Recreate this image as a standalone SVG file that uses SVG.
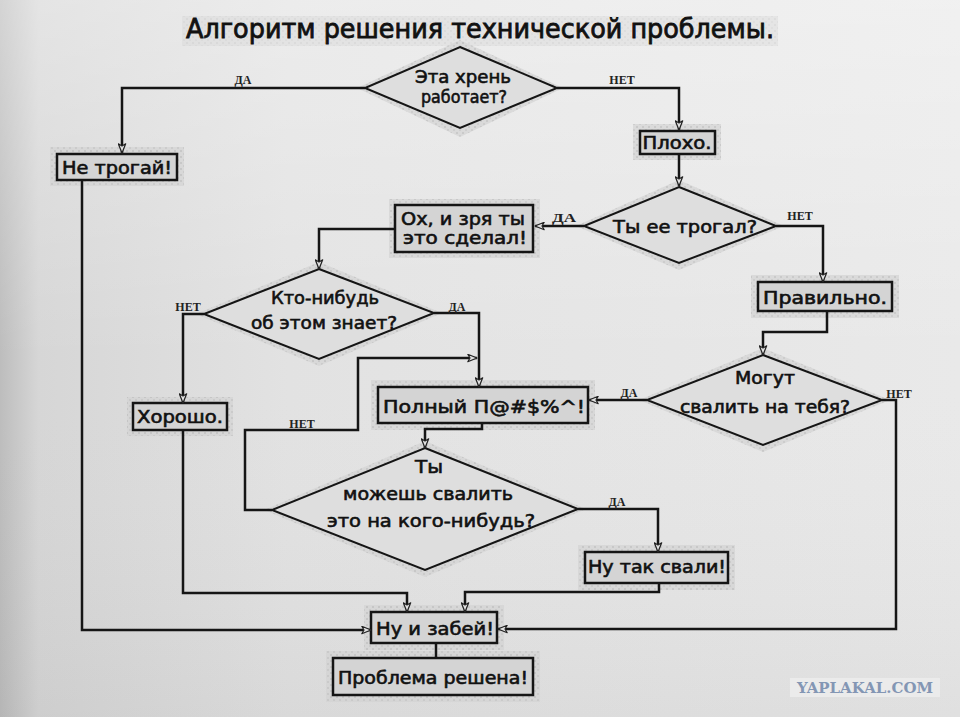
<svg xmlns="http://www.w3.org/2000/svg" width="960" height="717" viewBox="0 0 960 717">
<defs>
<linearGradient id="bg" x1="0" y1="0" x2="1" y2="0">
<stop offset="0" stop-color="#bdbdbd"/>
<stop offset="0.04" stop-color="#d6d6d6"/>
<stop offset="0.3" stop-color="#e2e2e2"/>
<stop offset="1" stop-color="#e9e9e9"/>
</linearGradient>
<linearGradient id="bgv" x1="0" y1="0" x2="0" y2="1">
<stop offset="0" stop-color="#ffffff" stop-opacity="0.35"/>
<stop offset="0.5" stop-color="#ffffff" stop-opacity="0"/>
<stop offset="1" stop-color="#000000" stop-opacity="0.04"/>
</linearGradient>
<pattern id="dither" width="6" height="6" patternUnits="userSpaceOnUse">
<rect width="6" height="6" fill="#d3d3d3"/>
<rect x="0" y="0" width="2" height="2" fill="#bcbcbc"/>
<rect x="3" y="3" width="2" height="2" fill="#c2c2c2"/>
</pattern>
<marker id="ah" markerWidth="11" markerHeight="9" refX="10" refY="4.5" orient="auto" markerUnits="userSpaceOnUse">
<path d="M0.8,0.8 L10,4.5 L0.8,8.2 L3,4.5 Z" fill="#e0e0e0" stroke="#222" stroke-width="1.2" stroke-linejoin="round"/>
</marker>
<style>
.box{fill:#d4d4d4;stroke:#151515;stroke-width:2.5}
.dia{fill:#dedede;stroke:#151515;stroke-width:2}
.halo{fill:url(#dither);opacity:0.7}
.t{font-family:"DejaVu Sans","Noto Sans",sans-serif;font-size:17px;fill:#111;stroke:#111;stroke-width:0.6;text-anchor:middle}
.lbl{font-family:"Liberation Serif","DejaVu Serif",serif;font-size:12px;font-weight:bold;fill:#222;text-anchor:middle}
.con{fill:none;stroke:#151515;stroke-width:2.5;stroke-linejoin:miter}
.arr{marker-end:url(#ah)}
.title{font-family:"DejaVu Sans","Noto Sans",sans-serif;font-size:26px;fill:#111;stroke:#111;stroke-width:0.8;text-anchor:middle}
</style>
</defs>
<rect width="960" height="717" fill="url(#bg)"/>
<rect width="960" height="717" fill="url(#bgv)"/>

<g id="title">
<rect x="182" y="16" width="596" height="30" class="halo" style="opacity:0.35"/>
<text class="title" x="480" y="38" textLength="588" lengthAdjust="spacingAndGlyphs">Алгоритм решения технической проблемы.</text>
</g>

<g id="works">
<polygon class="halo" points="460,40 563,88 460,137 357,88"/>
<polygon class="dia" points="460,47 557,88 460,128 365,88"/>
<text class="t" x="463" y="83" textLength="96" lengthAdjust="spacingAndGlyphs">Эта хрень</text>
<text class="t" x="464" y="103" textLength="86" lengthAdjust="spacingAndGlyphs">работает?</text>
</g>

<g id="dont-touch">
<rect class="halo" x="50" y="147" width="134" height="39"/>
<rect class="box" x="57" y="154" width="120" height="26"/>
<text class="t" x="117" y="174" textLength="110" lengthAdjust="spacingAndGlyphs">Не трогай!</text>
</g>

<g id="bad">
<rect class="halo" x="633" y="124" width="88" height="36"/>
<rect class="box" x="640" y="131" width="75" height="23"/>
<text class="t" x="677" y="149" textLength="69" lengthAdjust="spacingAndGlyphs">Плохо.</text>
</g>

<g id="touched">
<polygon class="halo" points="679,180 784,226 679,270 576,226"/>
<polygon class="dia" points="679,187 776,226 679,263 584,226"/>
<text class="t" x="685" y="233" font-size="19" textLength="144" lengthAdjust="spacingAndGlyphs">Ты ее трогал?</text>
</g>

<g id="oh">
<rect class="halo" x="389" y="199" width="151" height="59"/>
<rect class="box" x="395" y="205" width="138" height="47"/>
<text class="t" x="463" y="225" font-size="15" textLength="124" lengthAdjust="spacingAndGlyphs">Ох, и зря ты</text>
<text class="t" x="465" y="244" font-size="15" textLength="124" lengthAdjust="spacingAndGlyphs">это сделал!</text>
</g>

<g id="right">
<rect class="halo" x="751" y="275" width="148" height="43"/>
<rect class="box" x="758" y="282" width="134" height="29"/>
<text class="t" x="825" y="304" font-size="19" textLength="124" lengthAdjust="spacingAndGlyphs">Правильно.</text>
</g>

<g id="blame-you">
<polygon class="halo" points="763,348 890,400 763,452 639,400"/>
<polygon class="dia" points="763,355 882,400 763,445 647,400"/>
<text class="t" x="765" y="384" font-size="19" textLength="60" lengthAdjust="spacingAndGlyphs">Могут</text>
<text class="t" x="765" y="413" font-size="19" textLength="170" lengthAdjust="spacingAndGlyphs">свалить на тебя?</text>
</g>

<g id="knows">
<polygon class="halo" points="319,262 442,313 319,366 196,314"/>
<polygon class="dia" points="319,269 434,313 319,359 204,314"/>
<text class="t" x="325" y="304" textLength="108" lengthAdjust="spacingAndGlyphs">Кто-нибудь</text>
<text class="t" x="324" y="329" textLength="146" lengthAdjust="spacingAndGlyphs">об этом знает?</text>
</g>

<g id="good">
<rect class="halo" x="127" y="397" width="106" height="39"/>
<rect class="box" x="133" y="403" width="94" height="27"/>
<text class="t" x="180" y="423" font-size="18" textLength="86" lengthAdjust="spacingAndGlyphs">Хорошо.</text>
</g>

<g id="full">
<rect class="halo" x="371" y="380" width="224" height="50"/>
<rect class="box" x="378" y="387" width="210" height="36"/>
<text class="t" x="484" y="413" font-size="19" textLength="202" lengthAdjust="spacingAndGlyphs">Полный П@#$%^!</text>
</g>

<g id="blame-other">
<polygon class="halo" points="425,441 586,509 425,577 264,510"/>
<polygon class="dia" points="425,448 578,509 425,570 272,510"/>
<text class="t" x="429" y="473" font-size="19" textLength="28" lengthAdjust="spacingAndGlyphs">Ты</text>
<text class="t" x="428" y="500" font-size="18" textLength="170" lengthAdjust="spacingAndGlyphs">можешь свалить</text>
<text class="t" x="431" y="527" font-size="18" textLength="208" lengthAdjust="spacingAndGlyphs">это на кого-нибудь?</text>
</g>

<g id="do-blame">
<rect class="halo" x="578" y="545" width="157" height="45"/>
<rect class="box" x="585" y="552" width="143" height="31"/>
<text class="t" x="657" y="573" font-size="19" textLength="138" lengthAdjust="spacingAndGlyphs">Ну так свали!</text>
</g>

<g id="forget">
<rect class="halo" x="364" y="605" width="140" height="45"/>
<rect class="box" x="371" y="612" width="126" height="31"/>
<text class="t" x="435" y="635" font-size="19" textLength="118" lengthAdjust="spacingAndGlyphs">Ну и забей!</text>
</g>

<g id="solved">
<rect class="halo" x="326" y="651" width="214" height="51"/>
<rect class="box" x="333" y="658" width="200" height="37"/>
<text class="t" x="433" y="684" font-size="19" textLength="190" lengthAdjust="spacingAndGlyphs">Проблема решена!</text>
</g>

<g id="connectors">
<path class="con arr" d="M365,88 H122 V153"/>
<path class="con arr" d="M557,88 H679 V130"/>
<path class="con arr" d="M679,154 V186"/>
<path class="con arr" d="M584,226 H535"/>
<path class="con arr" d="M776,226 H823 V282"/>
<path class="con arr" d="M827,311 V332 H763 V355"/>
<path class="con arr" d="M647,400 H589"/>
<path class="con arr" d="M882,400 H896 V629 H498"/>
<path class="con arr" d="M395,229 H319 V269"/>
<path class="con arr" d="M204,314 H183 V403"/>
<path class="con arr" d="M434,313 H479 V387"/>
<path class="con arr" d="M272,510 H245 V430 H358 V358 H477"/>
<path class="con arr" d="M482,424 V429 H425 V448"/>
<path class="con arr" d="M578,509 H658 V552"/>
<path class="con arr" d="M659,584 V592 H465 V612"/>
<path class="con arr" d="M183,431 V593 H407 V612"/>
<path class="con arr" d="M82,181 V630 H371"/>
<path class="con" d="M436,644 V658"/>
<text class="lbl" x="243" y="84">ДА</text>
<text class="lbl" x="622" y="84">НЕТ</text>
<text class="lbl" x="564" y="222" textLength="24" lengthAdjust="spacingAndGlyphs">ДА</text>
<text class="lbl" x="800" y="220">НЕТ</text>
<text class="lbl" x="188" y="311">НЕТ</text>
<text class="lbl" x="457" y="311">ДА</text>
<text class="lbl" x="302" y="428">НЕТ</text>
<text class="lbl" x="629" y="397">ДА</text>
<text class="lbl" x="899" y="398">НЕТ</text>
<text class="lbl" x="617" y="506">ДА</text>
</g>

<g id="watermark">
<rect x="790" y="678" width="150" height="19" fill="#ebebeb"/>
<text x="865" y="693" font-family="'DejaVu Serif','Liberation Serif',serif" font-weight="bold" font-size="14" fill="#8396b4" text-anchor="middle" textLength="136" lengthAdjust="spacingAndGlyphs">YAPLAKAL.COM</text>
</g>
</svg>
